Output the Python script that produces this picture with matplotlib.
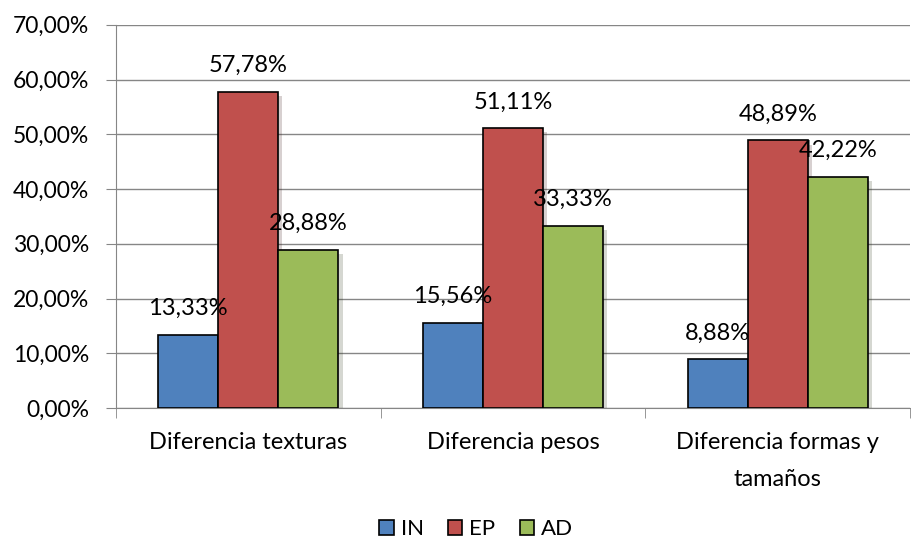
import matplotlib.pyplot as plt
import matplotlib.patheffects as pe
import numpy as np

categorias = ['Diferencia texturas', 'Diferencia pesos', 'Diferencia formas y\ntamaños']
series = ['IN', 'EP', 'AD']
valores_in = [13.33, 15.56, 8.88]
valores_ep = [57.78, 51.11, 48.89]
valores_ad = [28.88, 33.33, 42.22]
etiquetas_in = ['13,33%', '15,56%', '8,88%']
etiquetas_ep = ['57,78%', '51,11%', '48,89%']
etiquetas_ad = ['28,88%', '33,33%', '42,22%']
colores = ['#4F81BD', '#C0504D', '#9BBB59']

plt.rcParams['font.family'] = ['Lato', 'DejaVu Sans']

fig = plt.figure(figsize=(9.12, 5.4), dpi=100)
ax = fig.add_axes([0.127, 0.2444, 0.871, 0.7096])

x = np.arange(len(categorias))
w = 0.227
datos = [valores_in, valores_ep, valores_ad]
etiquetas = [etiquetas_in, etiquetas_ep, etiquetas_ad]
for i in range(3):
    bars = ax.bar(x + (i - 1) * w, datos[i], w, color=colores[i], edgecolor='black',
                  linewidth=1.2, label=series[i], zorder=3)
    for b in bars:
        b.set_path_effects([pe.SimplePatchShadow(offset=(3, -3), alpha=0.2), pe.Normal()])
    for b, t in zip(bars, etiquetas[i]):
        ax.annotate(t, (b.get_x() + b.get_width() / 2, b.get_height()), xytext=(0, 19),
                    textcoords='offset points', ha='center', va='center', fontsize=17, zorder=5)

ax.set_xlim(-0.5, 2.5)
ax.set_ylim(0, 70)
ax.set_yticks(range(0, 71, 10))
ax.set_yticklabels(['%d,00%%' % v for v in range(0, 71, 10)], fontsize=16.5)
ax.set_xticks(x)
ax.set_xticklabels(categorias, fontsize=17, linespacing=1.95)
ax.tick_params(axis='x', length=0, pad=17)
ax.set_xticks([-0.5, 0.5, 1.5, 2.5], minor=True)
ax.tick_params(axis='x', which='minor', length=7, color='#868686')
ax.tick_params(axis='y', length=7, color='#868686', pad=12)
ax.grid(axis='y', color='#868686', linewidth=1, zorder=0)
for s in ['top', 'right']:
    ax.spines[s].set_visible(False)
ax.spines['left'].set_color('#868686')
ax.spines['bottom'].set_color('#868686')

leg = fig.legend(loc='lower center', ncol=3, bbox_to_anchor=(0.522, -0.035), frameon=False,
                 fontsize=16, handlelength=0.65, handleheight=0.65, handletextpad=0.3,
                 columnspacing=1.1)
for h in leg.legend_handles:
    h.set_path_effects([])

plt.savefig('out.png', dpi=100)
